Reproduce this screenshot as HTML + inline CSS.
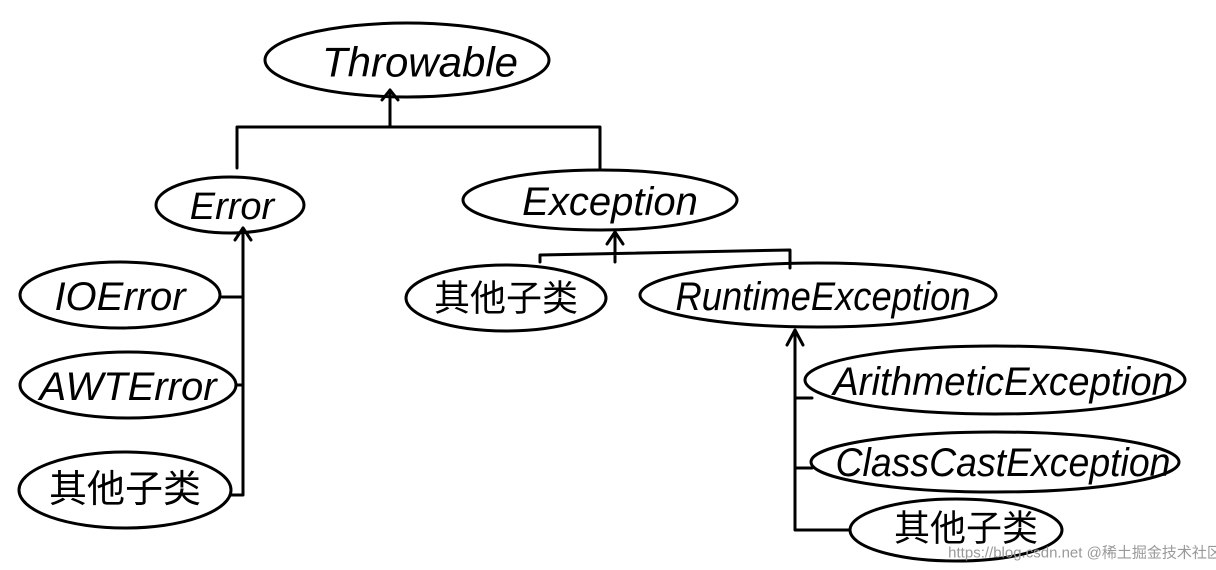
<!DOCTYPE html>
<html><head><meta charset="utf-8"><style>
html,body{margin:0;padding:0;background:#fff;}
svg{display:block}
text{font-family:"Liberation Sans","Noto Sans CJK SC",sans-serif;fill:#000;text-anchor:middle;dominant-baseline:central}
</style></head><body>
<svg width="1216" height="570" viewBox="0 0 1216 570" xmlns="http://www.w3.org/2000/svg">
<g fill="none" stroke="#000" stroke-width="3" stroke-linecap="round" stroke-linejoin="round">
<ellipse cx="407" cy="60" rx="142" ry="37"/>
<ellipse cx="230" cy="205" rx="74" ry="28"/>
<ellipse cx="600" cy="200" rx="137" ry="30"/>
<ellipse cx="120" cy="295" rx="100" ry="33"/>
<ellipse cx="128" cy="385" rx="108" ry="33"/>
<ellipse cx="125" cy="490" rx="106" ry="38"/>
<ellipse cx="506" cy="298" rx="100" ry="33"/>
<ellipse cx="818" cy="295" rx="178" ry="32"/>
<ellipse cx="995" cy="380" rx="190" ry="34"/>
<ellipse cx="995" cy="462" rx="184" ry="30"/>
<ellipse cx="956" cy="530" rx="106" ry="31"/>
<path d="M390 90 L390 127 M237 168 L237 127 L600 127 L600 168"/>
<path d="M382 100 L390 90 L398 100"/>
<path d="M243 228 L243 495 M222 297 L243 297 M236 385 L243 385 M230 495 L243 495"/>
<path d="M235 240 L243 228 L251 240"/>
<path d="M615 232 L615 262 M540 262 L540 255 L790 250 L790 268"/>
<path d="M607 244 L615 232 L623 244"/>
<path d="M795 330 L795 530 M795 398 L812 398 M795 468 L812 468 M795 530 L850 530"/>
<path d="M787 345 L795 330 L803 345"/>
</g>
<text x="420" y="62" font-size="42" font-style="italic">Throwable</text>
<text x="232" y="207" font-size="38" font-style="italic">Error</text>
<text x="610" y="202" font-size="40" font-style="italic">Exception</text>
<text x="120" y="297" font-size="40" font-style="italic">IOError</text>
<text x="128" y="387" font-size="40" font-style="italic">AWTError</text>
<text x="125" y="490" font-size="38">其他子类</text>
<text x="506" y="298" font-size="36">其他子类</text>
<text x="823" y="297" font-size="40" font-style="italic" textLength="295" lengthAdjust="spacingAndGlyphs">RuntimeException</text>
<text x="1003" y="382" font-size="40" font-style="italic" textLength="340" lengthAdjust="spacingAndGlyphs">ArithmeticException</text>
<text x="1003" y="463" font-size="40" font-style="italic" textLength="335" lengthAdjust="spacingAndGlyphs">ClassCastException</text>
<text x="966" y="528" font-size="36">其他子类</text>
<text x="1085" y="553" font-size="15" style="fill:#999">https://blog.csdn.net @稀土掘金技术社区</text>
</svg>
</body></html>
